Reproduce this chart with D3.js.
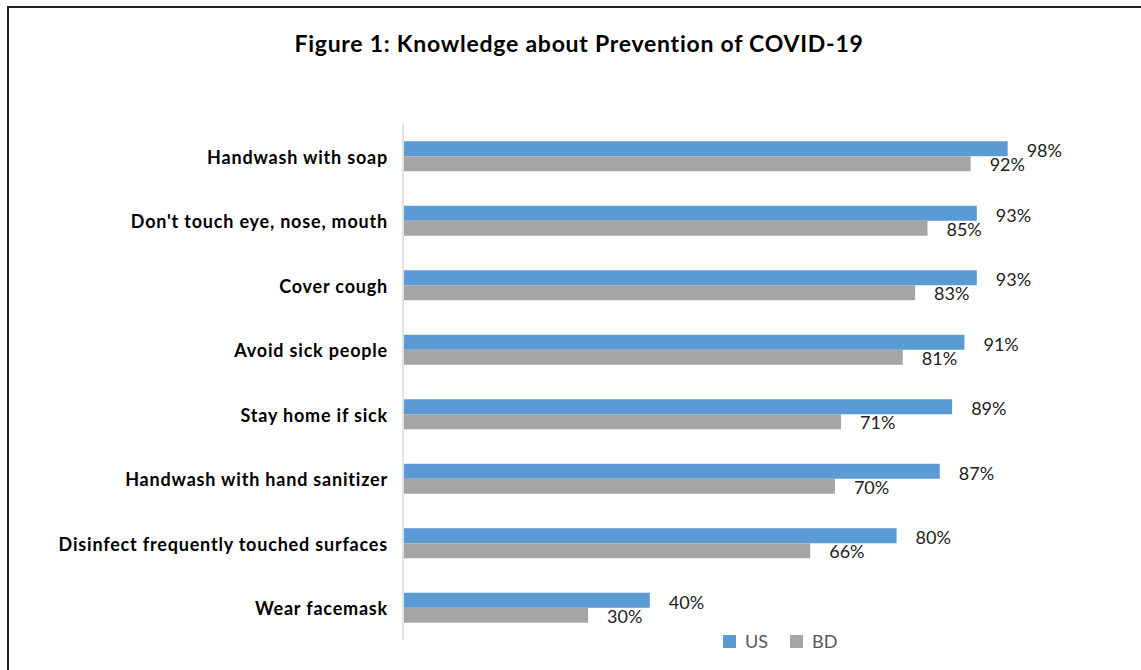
<!DOCTYPE html>
<html>
<head>
<meta charset="utf-8">
<script src="https://cdn.jsdelivr.net/npm/d3@7/dist/d3.min.js"></script>
<style>
  html, body { margin: 0; padding: 0; background: #fff; }
  svg { display: block; }
</style>
</head>
<body>
<svg id="chart" width="1141" height="670"></svg>
<script>
// Knowledge about prevention of COVID-19, US vs BD respondents (%)
const categories = [
  "Handwash with soap",
  "Don't touch eye, nose, mouth",
  "Cover cough",
  "Avoid sick people",
  "Stay home if sick",
  "Handwash with hand sanitizer",
  "Disinfect frequently touched surfaces",
  "Wear facemask"
];
const seriesNames = ["US", "BD"];
const usValues = [98, 93, 93, 91, 89, 87, 80, 40];
const bdValues = [92, 85, 83, 81, 71, 70, 66, 30];
const seriesColors = ["#5B9BD5", "#A5A5A5"];

const rows = categories.map((c, i) => ({
  category: c,
  values: [
    { series: "US", value: usValues[i] },
    { series: "BD", value: bdValues[i] }
  ]
}));

const svg = d3.select("#chart");
const font = "Lato, 'Open Sans', sans-serif";

// frame
svg.append("rect")
  .attr("x", 8).attr("y", 7)
  .attr("width", 1160).attr("height", 700)
  .attr("fill", "none")
  .attr("stroke", "#222").attr("stroke-width", 2);

// title
svg.append("text")
  .attr("x", 579).attr("y", 52)
  .attr("text-anchor", "middle")
  .attr("font-family", font)
  .attr("font-weight", "bold")
  .attr("font-size", 23)
  .attr("letter-spacing", 0.75)
  .attr("fill", "#000")
  .text("Figure 1: Knowledge about Prevention of COVID-19");

const x = d3.scaleLinear().domain([0, 100]).range([403, 1020]);
const y0 = d3.scaleBand().domain(categories).range([124, 640]).paddingInner(0);
const y1 = d3.scaleBand().domain(seriesNames).range([0, y0.bandwidth()])
  .paddingInner(0).paddingOuter(1.15);
const color = d3.scaleOrdinal().domain(seriesNames).range(seriesColors);

// category axis line
svg.append("line")
  .attr("x1", x(0)).attr("x2", x(0))
  .attr("y1", 124).attr("y2", 640)
  .attr("stroke", "#D9D9D9").attr("stroke-width", 1.5);

const groups = svg.append("g").selectAll("g")
  .data(rows).join("g")
  .attr("transform", d => `translate(0,${y0(d.category)})`);

groups.selectAll("rect")
  .data(d => d.values).join("rect")
  .attr("x", x(0) + 1)
  .attr("y", d => y1(d.series))
  .attr("width", d => x(d.value) - x(0) - 1)
  .attr("height", y1.bandwidth())
  .attr("fill", d => color(d.series));

groups.selectAll("text.val")
  .data(d => d.values).join("text")
  .attr("class", "val")
  .attr("x", d => x(d.value) + 19)
  .attr("y", d => y1(d.series) + y1.bandwidth() / 2 + (d.series === "US" ? 2 : 1))
  .attr("dy", "0.35em")
  .attr("font-family", font)
  .attr("font-size", 18)
  .attr("fill", "#222")
  .text(d => d.value + "%");

// category labels
svg.append("g").selectAll("text")
  .data(categories).join("text")
  .attr("x", 388)
  .attr("y", d => y0(d) + y0.bandwidth() / 2 + 1)
  .attr("dy", "0.35em")
  .attr("text-anchor", "end")
  .attr("font-family", font)
  .attr("font-weight", "bold")
  .attr("font-size", 18)
  .attr("letter-spacing", 0.8)
  .attr("fill", "#000")
  .text(d => d);

// legend
const legendX = [723, 790];
const legend = svg.append("g").selectAll("g")
  .data(seriesNames).join("g")
  .attr("transform", (d, i) => `translate(${legendX[i]},635)`);
legend.append("rect")
  .attr("width", 13).attr("height", 13)
  .attr("fill", d => color(d));
legend.append("text")
  .attr("x", 22).attr("y", 7)
  .attr("dy", "0.35em")
  .attr("font-family", font)
  .attr("font-size", 18)
  .attr("fill", "#595959")
  .text(d => d);
</script>
</body>
</html>
